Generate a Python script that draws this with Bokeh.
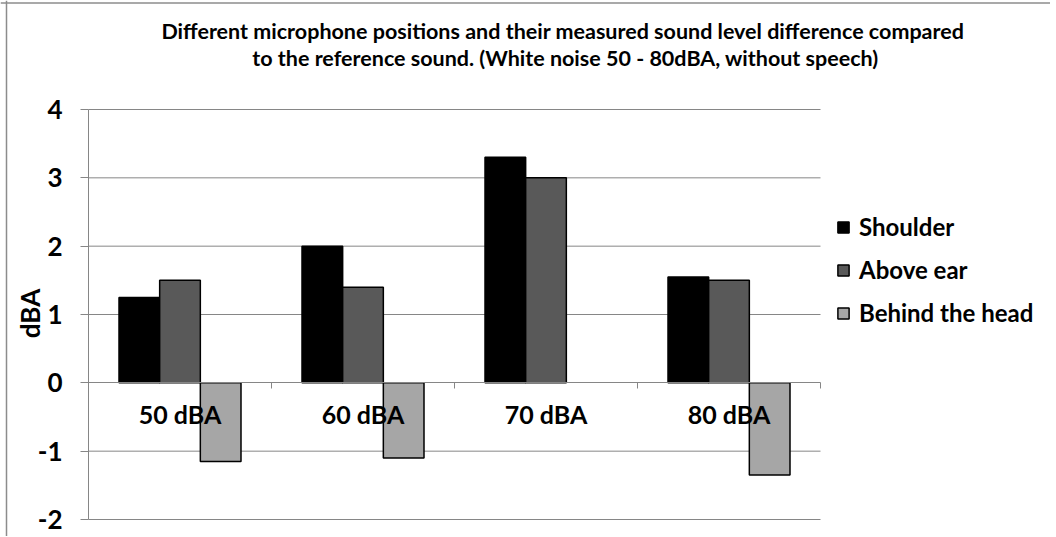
import math
import numpy as np
from bokeh.plotting import figure
from bokeh.models import (ColumnDataSource, Range1d, FixedTicker, Legend, LegendItem,
                          Label, LinearAxis, Span)
from bokeh.transform import dodge
from bokeh.embed import file_html
from bokeh.resources import INLINE

# ---- data ----
categories = ["50 dBA", "60 dBA", "70 dBA", "80 dBA"]
shoulder = [1.25, 2.0, 3.3, 1.55]
above_ear = [1.5, 1.4, 3.0, 1.5]
behind_head = [-1.15, -1.1, np.nan, -1.35]
series_names = ["Shoulder", "Above ear", "Behind the head"]
y_ticks = [-2, -1, 0, 1, 2, 3, 4]
y_tick_labels = ["-2", "-1", "0", "1", "2", "3", "4"]
y_title = "dBA"
title_lines = ["Different microphone positions and their measured sound level difference  compared",
               "to the reference sound. (White noise 50 - 80dBA, without speech)"]

FONT = "Lato"
GRAY = "#868686"
colors = ["#000000", "#595959", "#A6A6A6"]

# ---- layout (pixels) ----
W, H = 1050, 536
AX_X, AX_TOP, AX_BOTTOM = 88, 109, 519   # plot-area position on the canvas
cat_px = 183                              # pixel width of one category
unit_px = (AX_BOTTOM - AX_TOP) / 6        # pixels per dBA
n = len(categories)
x_start = -AX_X / cat_px
x_end = (W - AX_X) / cat_px
y_start = -2 - (H - AX_BOTTOM) / unit_px
y_end = 4 + AX_TOP / unit_px

xpos = [i + 0.5 for i in range(n)]
src = ColumnDataSource(dict(x=xpos, s=shoulder, a=above_ear, b=behind_head))
gy = [t for t in y_ticks if t != 0]
grid_src = ColumnDataSource(dict(y=gy, x0=[0] * len(gy), x1=[n] * len(gy)))

p = figure(width=W, height=H, output_backend="svg", toolbar_location=None,
           x_range=Range1d(x_start, x_end), y_range=Range1d(y_start, y_end),
           min_border_left=0, min_border_right=0, min_border_top=0,
           min_border_bottom=0, x_axis_location=None, y_axis_location=None)
p.outline_line_color = None
p.background_fill_color = "white"
p.border_fill_color = "white"
p.xgrid.visible = False
p.ygrid.visible = False

# chart-area border (left and top edges visible in the reference)
p.add_layout(Span(location=6, dimension="height", location_units="screen",
                  line_color="#8c8c8c", line_width=1.5))
p.add_layout(Span(location=H - 2.5, dimension="width", location_units="screen",
                  line_color="#8c8c8c", line_width=1.5))

# horizontal gridlines, limited to the category area
p.segment(x0="x0", x1="x1", y0="y", y1="y", source=grid_src, line_color=GRAY, line_width=1)

bw = 2 / 9
r1 = p.vbar(x=dodge("x", -bw, range=p.x_range), top="s", bottom=0, width=bw, source=src,
            fill_color=colors[0], line_color="black", line_width=1.5)
r2 = p.vbar(x=dodge("x", 0, range=p.x_range), top="a", bottom=0, width=bw, source=src,
            fill_color=colors[1], line_color="black", line_width=1.5)
r3 = p.vbar(x=dodge("x", bw, range=p.x_range), top="b", bottom=0, width=bw, source=src,
            fill_color=colors[2], line_color="black", line_width=1.5)

# y axis at x = 0
yaxis = LinearAxis(fixed_location=0, bounds=(y_ticks[0], y_ticks[-1]))
yaxis.ticker = FixedTicker(ticks=y_ticks)
yaxis.major_label_overrides = {t: l for t, l in zip(y_ticks, y_tick_labels)}
yaxis.axis_line_color = GRAY
yaxis.major_tick_line_color = GRAY
yaxis.major_tick_out = 8
yaxis.major_tick_in = 0
yaxis.minor_tick_line_color = None
yaxis.major_label_standoff = 18
yaxis.major_label_text_font = FONT
yaxis.major_label_text_font_style = "bold"
yaxis.major_label_text_font_size = "26px"
yaxis.major_label_text_color = "black"
p.add_layout(yaxis, "left")

# x axis at zero, ticks on category boundaries, labels at centres
xaxis = LinearAxis(fixed_location=0, bounds=(0, n))
xaxis.ticker = FixedTicker(ticks=xpos, minor_ticks=list(range(n + 1)))
xaxis.major_label_overrides = {x: c for x, c in zip(xpos, categories)}
xaxis.axis_line_color = GRAY
xaxis.major_tick_line_color = None
xaxis.major_tick_out = 0
xaxis.major_tick_in = 0
xaxis.minor_tick_line_color = GRAY
xaxis.minor_tick_out = 6
xaxis.minor_tick_in = 0
xaxis.major_label_standoff = 10
xaxis.major_label_text_font = FONT
xaxis.major_label_text_font_style = "bold"
xaxis.major_label_text_font_size = "25px"
xaxis.major_label_text_color = "black"
p.add_layout(xaxis, "below")

# y-axis title
p.add_layout(Label(x=29, y=H - 313, x_units="screen", y_units="screen", text=y_title,
                   angle=math.pi / 2, text_align="center", text_baseline="middle",
                   text_font=FONT, text_font_style="bold", text_font_size="26px",
                   text_color="black"))

# chart title (two centred lines)
for i, line in enumerate(title_lines):
    p.add_layout(Label(x=565, y=H - 30 - i * 27, x_units="screen", y_units="screen",
                       text=line, text_align="center", text_baseline="middle",
                       text_font=FONT, text_font_style="bold", text_font_size="21.5px",
                       text_color="black"))

legend = Legend(items=[LegendItem(label=series_names[0], renderers=[r1]),
                       LegendItem(label=series_names[1], renderers=[r2]),
                       LegendItem(label=series_names[2], renderers=[r3])],
                location=(836, 206 + (H - 533)))
legend.border_line_color = None
legend.background_fill_alpha = 0
legend.label_text_font = FONT
legend.label_text_font_style = "bold"
legend.label_text_font_size = "24px"
legend.label_text_color = "black"
legend.glyph_width = 14
legend.glyph_height = 14
legend.label_height = 29
legend.spacing = 14
legend.padding = 8
legend.margin = 0
legend.label_standoff = 9
p.add_layout(legend)

open("out.html", "w").write(file_html(p, INLINE))
